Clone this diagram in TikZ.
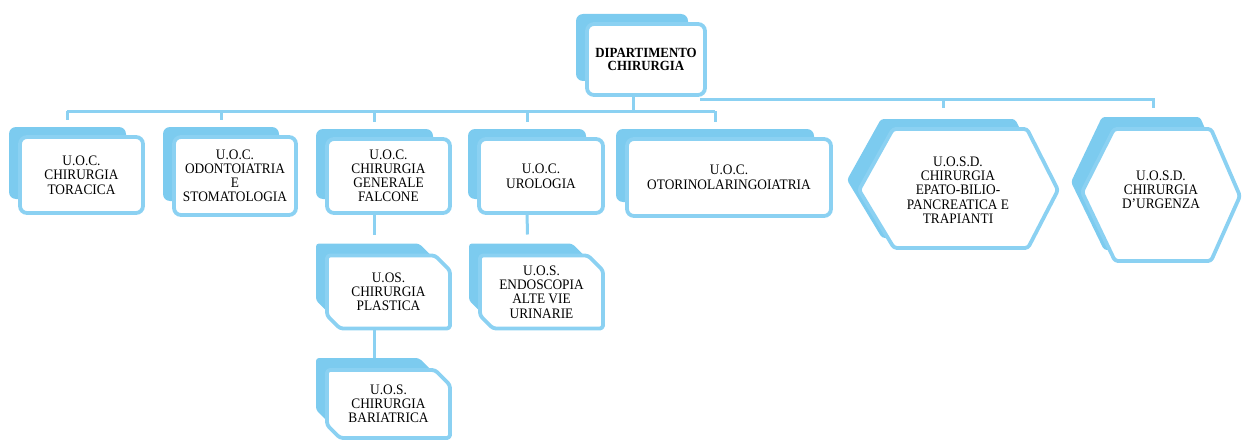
\documentclass[tikz,border=0pt]{standalone}
\usepackage{fontspec}
\setmainfont{Liberation Serif}[FakeStretch=0.92]
\usetikzlibrary{calc}
\pgfdeclarelayer{background}
\pgfsetlayers{background,main}
\definecolor{shblue}{HTML}{7CCBEF}
\definecolor{frblue}{HTML}{8BD1F2}
\tikzset{
  frame/.style={draw=frblue, line width=3.8pt, line join=round},
  box/.style={frame, fill=white, rounded corners=7pt, align=center, outer sep=0pt, inner sep=2pt, font=\fontsize{14.5}{14.6}\selectfont},
  plainbox/.style={align=center, outer sep=0pt, inner sep=2pt, font=\fontsize{14.5}{14.2}\selectfont},
  conn/.style={draw=frblue, line width=3pt},
  shadowfill/.style={fill=shblue}
}
\newcommand\shadowrect[1]{%
  \begin{pgfonlayer}{background}
    \path[shadowfill, rounded corners=7pt] ($(#1.north west)+(-11,-10)$) rectangle ($(#1.south east)+(-17,-14)$);
  \end{pgfonlayer}}
\newcommand\chamfbox[1]{%
  \begin{pgfonlayer}{background}
    \path[shadowfill, rounded corners=3pt] ($(#1.north west)+(-11,-12)$) -- ($(#1.north east)+(-31,-12)$) -- ($(#1.north east)+(-17,2)$) -- ($(#1.south east)+(-17,-15)$) -- ($(#1.south west)+(2,-15)$) -- ($(#1.south west)+(-11,-28)$) -- cycle;
    \path[frame, fill=white, rounded corners=3pt] (#1.north west) -- ($(#1.north east)+(-15,0)$) -- ($(#1.north east)+(0,15)$) -- (#1.south east) -- ($(#1.south west)+(13,0)$) -- ($(#1.south west)+(0,-13)$) -- cycle;
  \end{pgfonlayer}}
\begin{document}
\begin{tikzpicture}[x=1pt,y=-1pt]
\useasboundingbox (0,0) rectangle (1243,444);
% top node
\node[box, font=\bfseries\fontsize{14}{13.5}\selectfont, minimum width=118pt, minimum height=71pt] (top) at (646,59.5) {DIPARTIMENTO\\CHIRURGIA};
\shadowrect{top}
% first row
\node[box, minimum width=123pt, minimum height=76pt] (c1) at (81.5,175) {U.O.C.\\CHIRURGIA\\TORACICA};
\node[box, font=\fontsize{14.5}{14}\selectfont, minimum width=122pt, minimum height=78pt] (c2) at (235,176) {U.O.C.\\ODONTOIATRIA\\E\\STOMATOLOGIA};
\node[box, font=\fontsize{14.5}{14}\selectfont, minimum width=123pt, minimum height=74pt] (c3) at (388.5,176) {U.O.C.\\CHIRURGIA\\GENERALE\\FALCONE};
\node[box, minimum width=124pt, minimum height=74pt] (c4) at (541,176) {U.O.C.\\UROLOGIA};
\node[box, minimum width=204pt, minimum height=77pt] (c5) at (729,177.5) {U.O.C.\\OTORINOLARINGOIATRIA};
\foreach \n in {c1,c2,c3,c4,c5}{\shadowrect{\n}}
% sub boxes
\node[plainbox, minimum width=123pt, minimum height=73pt] (s1) at (388.5,292) {U.OS.\\CHIRURGIA\\PLASTICA};
\node[plainbox, minimum width=123pt, minimum height=68pt] (s2) at (388.5,404) {U.O.S.\\CHIRURGIA\\BARIATRICA};
\node[plainbox, minimum width=123pt, minimum height=73pt] (s3) at (541.5,292) {U.O.S.\\ENDOSCOPIA\\ALTE VIE\\URINARIE};
\chamfbox{s1}
\chamfbox{s2}
\chamfbox{s3}
% hexagons
\node[plainbox] (h1) at (958,190) {U.O.S.D.\\CHIRURGIA\\EPATO-BILIO-\\PANCREATICA E\\TRAPIANTI};
\node[plainbox] (h2) at (1161,190) {U.O.S.D.\\CHIRURGIA\\D'URGENZA};
\begin{pgfonlayer}{background}
  \path[shadowfill, rounded corners=3pt] (847,180) -- (881,119) -- (1015,119) -- (1046,180) -- (1016,238) -- (882,238) -- cycle;
  \path[frame, fill=white, rounded corners=3pt] (859,190) -- (893,129) -- (1027,129) -- (1058,190) -- (1028,248) -- (894,248) -- cycle;
  \path[shadowfill, rounded corners=3pt] (1071,182) -- (1102,117) -- (1200,117) -- (1229,184) -- (1200,250) -- (1104,250) -- cycle;
  \path[frame, fill=white, rounded corners=3pt] (1082,192) -- (1114,129) -- (1211,129) -- (1240,196) -- (1211,261) -- (1115,261) -- cycle;
\end{pgfonlayer}
% connectors
\coordinate (bl) at (67,111);
\coordinate (br) at (715,111);
\coordinate (ul) at (700,100);
\coordinate (ur) at (1153,100);
\coordinate (h1top) at (943,108);
\coordinate (h2top) at (1153,108);
\draw[conn] ([xshift=-13pt]top.south) -- ([xshift=-13pt]top.south |- bl);
\draw[conn] (bl) -- (br);
\foreach \n in {c1,c2,c3,c4,c5}{
  \draw[conn] ([xshift=-14pt]\n.north |- bl) -- ([xshift=-14pt,yshift=17pt]\n.north);
}
\draw[conn] (ul) -- (ur) -- (h2top);
\draw[conn] (h1top |- ul) -- (h1top);
\draw[conn] ([xshift=-14.5pt]c3.south) -- ([xshift=-14.5pt,yshift=21pt]s1.north);
\draw[conn] ([xshift=-14.5pt]s1.south) -- ([xshift=-14.5pt,yshift=12pt]s2.north);
\draw[conn] ([xshift=-14pt]c4.south) -- ([xshift=-14pt,yshift=21pt]s3.north);
\end{tikzpicture}
\end{document}
